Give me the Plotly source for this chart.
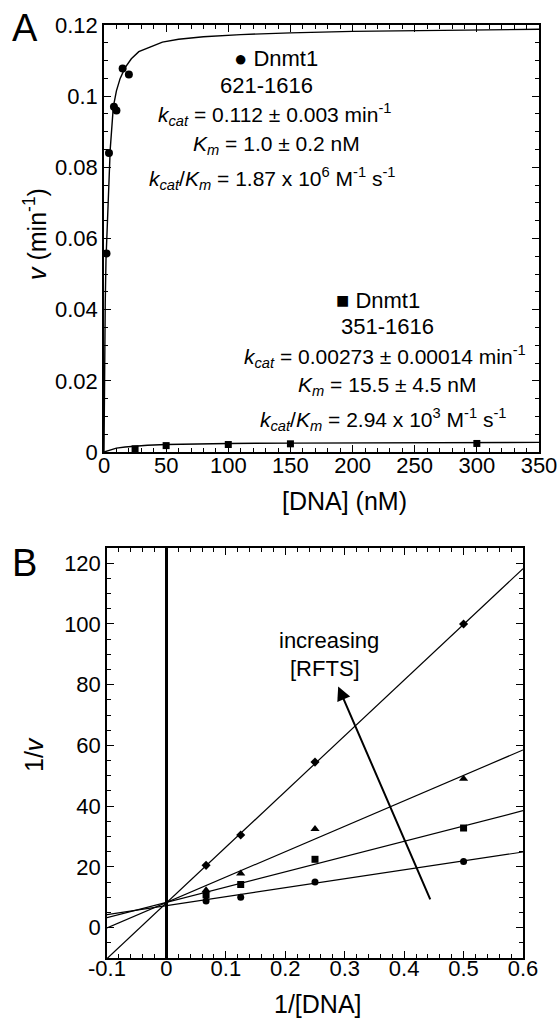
import plotly.graph_objects as go

W, H = 557, 1026
FONT = "Liberation Sans, Arial, Helvetica, sans-serif"

# ---------------- Panel A data ----------------
a_circ_x = [2, 4, 8, 10, 15, 20]
a_circ_y = [0.0558, 0.084, 0.097, 0.096, 0.1078, 0.1061]
a_sq_x = [25, 50, 100, 150, 300]
a_sq_y = [0.0009, 0.0018, 0.0021, 0.0023, 0.0024]
# fitted curves
a_fit1_x = [0, 0.4, 1, 1.6, 2.5, 3.5, 5, 7.5, 10, 13, 17, 22, 28, 37, 47, 60, 80, 110, 150, 200, 260, 350]
a_fit1_y = [0, 0.022, 0.042, 0.054, 0.062, 0.072, 0.085, 0.097, 0.1015, 0.105, 0.108, 0.1105,
            0.1125, 0.1138, 0.1152, 0.116, 0.1167, 0.1173, 0.1178, 0.1182, 0.1185, 0.1188]
a_fit2_x = [0, 5, 10, 17, 25, 35, 50, 75, 100, 150, 200, 250, 300, 350]
a_fit2_y = [0, 0.00065, 0.0011, 0.0014, 0.0017, 0.0019, 0.0021, 0.0023, 0.0024, 0.0025,
            0.0026, 0.00265, 0.0027, 0.0027]
a_xticks = [0, 50, 100, 150, 200, 250, 300, 350]
a_yticks = [0, 0.02, 0.04, 0.06, 0.08, 0.1, 0.12]
a_yticktext = ["0", "0.02", "0.04", "0.06", "0.08", "0.1", "0.12"]

# ---------------- Panel B data ----------------
b_x = [0.0667, 0.125, 0.25, 0.5]
b_circle = [8.8, 10.0, 15.0, 21.8]
b_square = [10.8, 14.2, 22.5, 32.8]
b_triangle = [12.3, 17.8, 32.5, 49.0]
b_diamond = [20.5, 30.5, 54.5, 100.0]
b_fit_x = [-0.1, 0.6]
b_fit_circle = [4.3, 24.9]
b_fit_square = [3.3, 38.5]
b_fit_triangle = [-0.1, 58.5]
b_fit_diamond = [-10.2, 118.2]
b_xticks = [-0.1, 0, 0.1, 0.2, 0.3, 0.4, 0.5, 0.6]
b_xticktext = ["-0.1", "0", "0.1", "0.2", "0.3", "0.4", "0.5", "0.6"]
b_yticks = [0, 20, 40, 60, 80, 100, 120]


def px(x):
    return x / W


def py(y):
    return 1 - y / H


fig = go.Figure()
lw = 1.4
# Panel A
fig.add_trace(go.Scatter(x=a_fit1_x, y=a_fit1_y, mode="lines", line=dict(color="black", width=lw),
                         xaxis="x", yaxis="y"))
fig.add_trace(go.Scatter(x=a_fit2_x, y=a_fit2_y, mode="lines", line=dict(color="black", width=lw),
                         xaxis="x", yaxis="y"))
fig.add_trace(go.Scatter(x=a_circ_x, y=a_circ_y, mode="markers",
                         marker=dict(symbol="circle", size=8, color="black"), xaxis="x", yaxis="y"))
fig.add_trace(go.Scatter(x=a_sq_x, y=a_sq_y, mode="markers",
                         marker=dict(symbol="square", size=7, color="black"), xaxis="x", yaxis="y"))

# Panel B
for fy, sym, yy, sz in [(b_fit_circle, "circle", b_circle, 7),
                        (b_fit_square, "square", b_square, 7),
                        (b_fit_triangle, "triangle-up", b_triangle, 8),
                        (b_fit_diamond, "diamond", b_diamond, 7)]:
    fig.add_trace(go.Scatter(x=b_fit_x, y=fy, mode="lines", line=dict(color="black", width=1.2),
                             xaxis="x2", yaxis="y2"))
    fig.add_trace(go.Scatter(x=b_x, y=yy, mode="markers",
                             marker=dict(symbol=sym, size=sz, color="black"), xaxis="x2", yaxis="y2"))

tickfont = dict(family=FONT, size=22, color="black")
common = dict(showline=True, linecolor="black", linewidth=1.5, mirror="ticks", ticks="inside",
              ticklen=7, tickwidth=1.2, tickcolor="black", showgrid=False, tickfont=tickfont,
              zeroline=False, automargin=False, ticklabeloverflow="allow")

fig.update_layout(
    width=W, height=H, margin=dict(l=0, r=0, t=0, b=0, autoexpand=False),
    paper_bgcolor="white", plot_bgcolor="white", showlegend=False,
    font=dict(family=FONT, color="black"),
    xaxis=dict(domain=[px(104), px(539)], range=[0, 350], anchor="y",
               tickmode="array", tickvals=a_xticks, ticklabelstandoff=-7,
               minor=dict(dtick=10, tick0=0, ticks="inside", ticklen=4, tickcolor="black", tickwidth=1),
               **common),
    yaxis=dict(domain=[py(452), py(25)], range=[0, 0.12], anchor="x",
               tickmode="array", tickvals=a_yticks, ticktext=a_yticktext,
               minor=dict(dtick=0.005, tick0=0, ticks="inside", ticklen=4, tickcolor="black", tickwidth=1),
               **common),
    xaxis2=dict(domain=[px(107), px(523)], range=[-0.1, 0.6], anchor="y2",
                tickmode="array", tickvals=b_xticks, ticktext=b_xticktext, ticklabelstandoff=-10,
                minor=dict(dtick=0.02, tick0=0, ticks="inside", ticklen=4, tickcolor="black", tickwidth=1),
                **{**common, "zeroline": True}, zerolinecolor="black", zerolinewidth=2.6),
    yaxis2=dict(domain=[py(958), py(548)], range=[-10, 125], anchor="x2",
                tickmode="array", tickvals=b_yticks,
                minor=dict(dtick=5, tick0=0, ticks="inside", ticklen=4, tickcolor="black", tickwidth=1),
                **common),
)

ann = []


def txt(x, y, text, size=22, **kw):
    d = dict(x=px(x), y=py(y), xref="paper", yref="paper", text=text, showarrow=False,
             font=dict(family=FONT, size=size, color="black"), xanchor="center", yanchor="middle")
    d.update(kw)
    ann.append(d)


txt(25, 28, "A", size=38)
txt(24, 563, "B", size=38)
txt(35, 234, "<i>v</i> (min<sup>-1</sup>)", size=25, textangle=-90)
txt(344, 501, "[DNA] (nM)", size=25)
txt(34, 755, "1/<i>v</i>", size=25, textangle=-90)
txt(318, 1004, "1/[DNA]", size=25)

# upper block
txt(276, 59, "\u25cf Dnmt1")
txt(266, 86, "621-1616")
txt(275, 114, "<i>k</i><sub><i>cat</i></sub> = 0.112 \u00b1 0.003 min<sup>-1</sup>", size=21)
txt(276, 145, "<i>K</i><sub><i>m</i></sub> = 1.0 \u00b1 0.2 nM", size=21)
txt(272, 179, "<i>k</i><sub><i>cat</i></sub>/<i>K</i><sub><i>m</i></sub> = 1.87 x 10<sup>6</sup> M<sup>-1</sup> s<sup>-1</sup>", size=21)
# lower block
txt(378, 300, "\u25a0 Dnmt1")
txt(387, 327, "351-1616")
txt(385, 356, "<i>k</i><sub><i>cat</i></sub> = 0.00273 \u00b1 0.00014 min<sup>-1</sup>", size=21)
txt(387, 386, "<i>K</i><sub><i>m</i></sub> = 15.5 \u00b1 4.5 nM", size=21)
txt(383, 419, "<i>k</i><sub><i>cat</i></sub>/<i>K</i><sub><i>m</i></sub> = 2.94 x 10<sup>3</sup> M<sup>-1</sup> s<sup>-1</sup>", size=21)

# panel B text and arrow
txt(329, 640, "increasing", size=22)
txt(325, 668, "[RFTS]", size=22)
ann.append(dict(x=0.289, y=79.4, ax=0.445, ay=8.8, xref="x2", yref="y2", axref="x2", ayref="y2",
                showarrow=True, arrowhead=2, arrowsize=1.4, arrowwidth=2, arrowcolor="black", text=""))

fig.update_layout(annotations=ann)
fig.write_html("out.html", config={"displayModeBar": False},
               post_script="document.body.style.margin='0px';")
